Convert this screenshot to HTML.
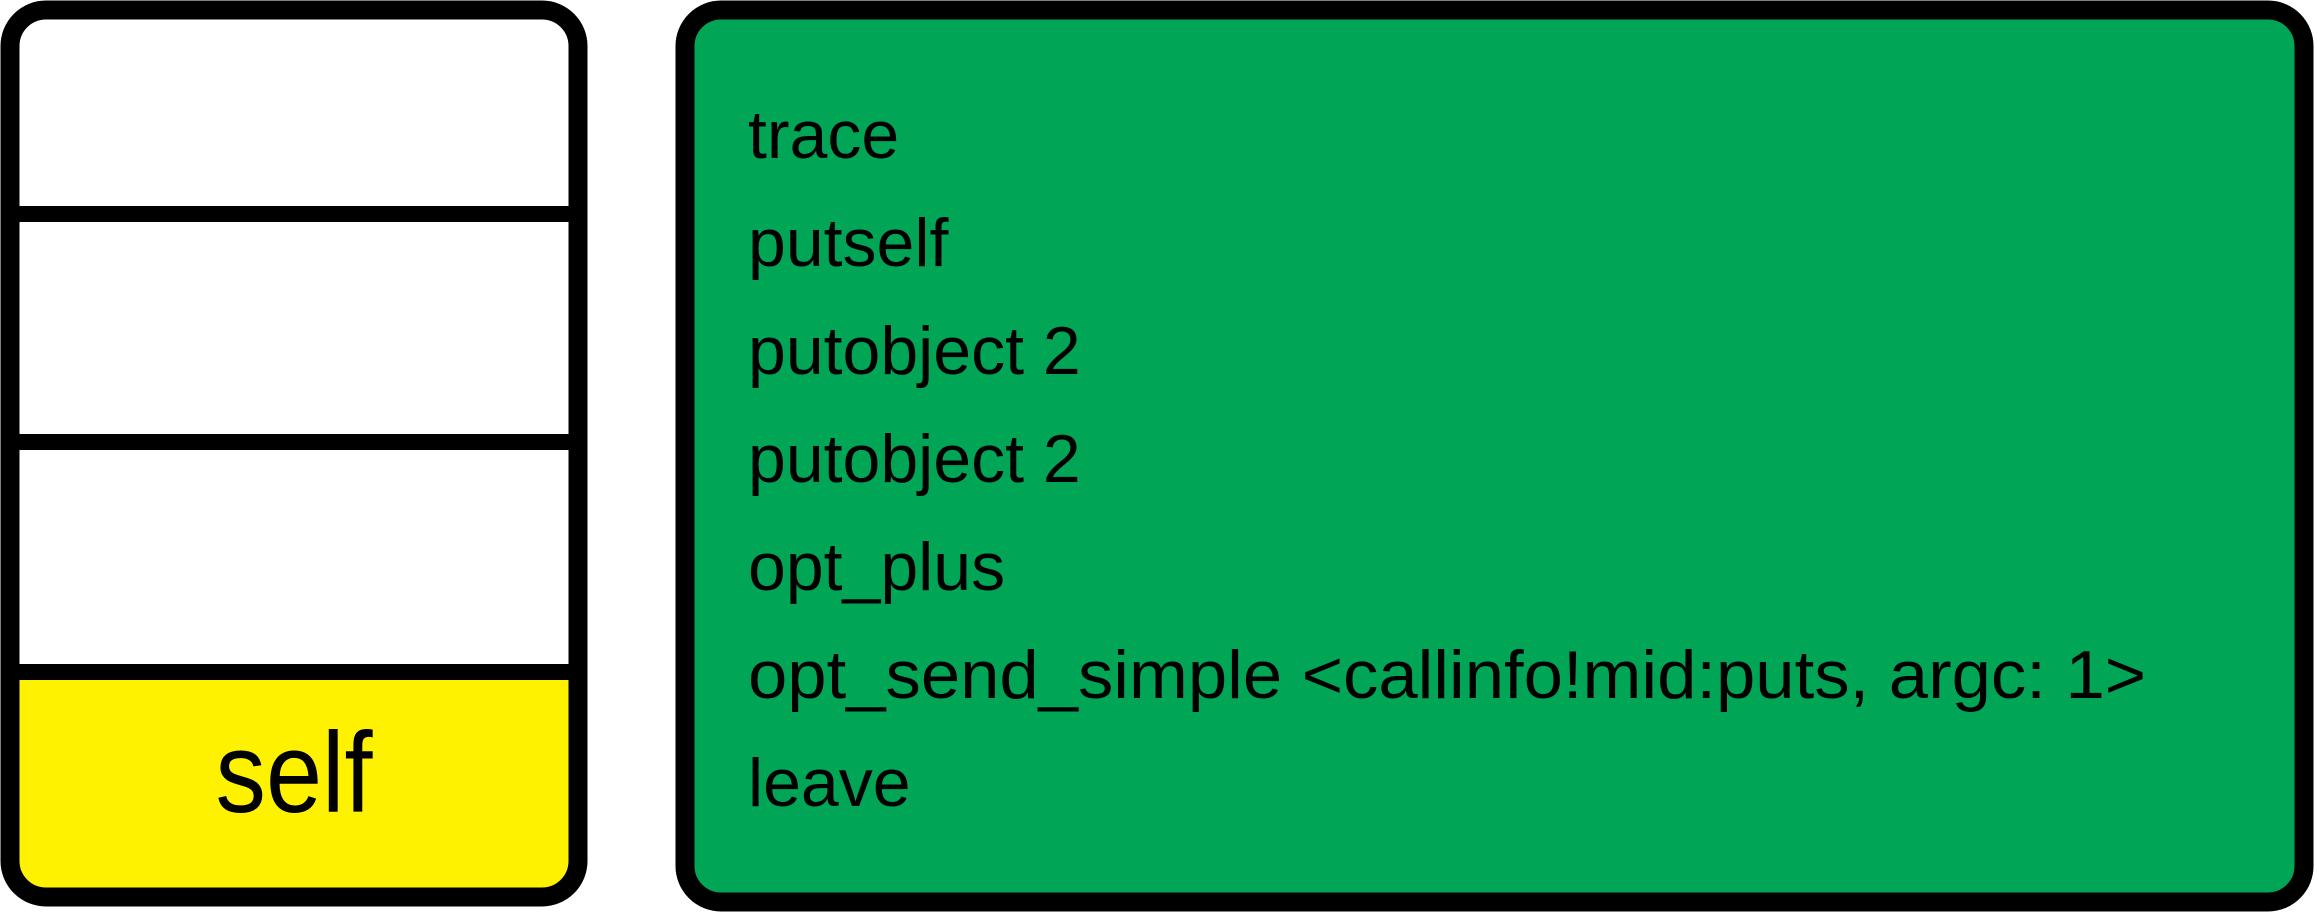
<!DOCTYPE html>
<html><head><style>
html,body{margin:0;padding:0;background:#fff;}
svg{display:block;}
text{font-family:"Liberation Sans",sans-serif;fill:#000;}
</style></head><body>
<svg width="2317" height="917" viewBox="0 0 2317 917">
  <path d="M19 672 H569 V870 Q569 890 549 890 H39 Q19 890 19 870 Z" fill="#fff200"/>
  <rect x="10" y="10" width="568" height="887" rx="36" fill="none" stroke="#000" stroke-width="19"/>
  <rect x="10" y="206" width="568" height="16" fill="#000"/>
  <rect x="10" y="434" width="568" height="16" fill="#000"/>
  <rect x="10" y="664" width="568" height="16" fill="#000"/>
  <text x="294" y="812" font-size="114" text-anchor="middle" textLength="157" lengthAdjust="spacingAndGlyphs">self</text>

  <rect x="685" y="10" width="1619" height="892" rx="36" fill="#00a656" stroke="#000" stroke-width="19"/>
  <g font-size="68">
    <text x="748" y="158">trace</text>
    <text x="748" y="266">putself</text>
    <text x="748" y="374">putobject 2</text>
    <text x="748" y="482">putobject 2</text>
    <text x="748" y="590">opt_plus</text>
    <text x="748" y="698" textLength="1398" lengthAdjust="spacingAndGlyphs">opt_send_simple &lt;callinfo!mid:puts, argc: 1&gt;</text>
    <text x="748" y="806">leave</text>
  </g>
</svg>
</body></html>
